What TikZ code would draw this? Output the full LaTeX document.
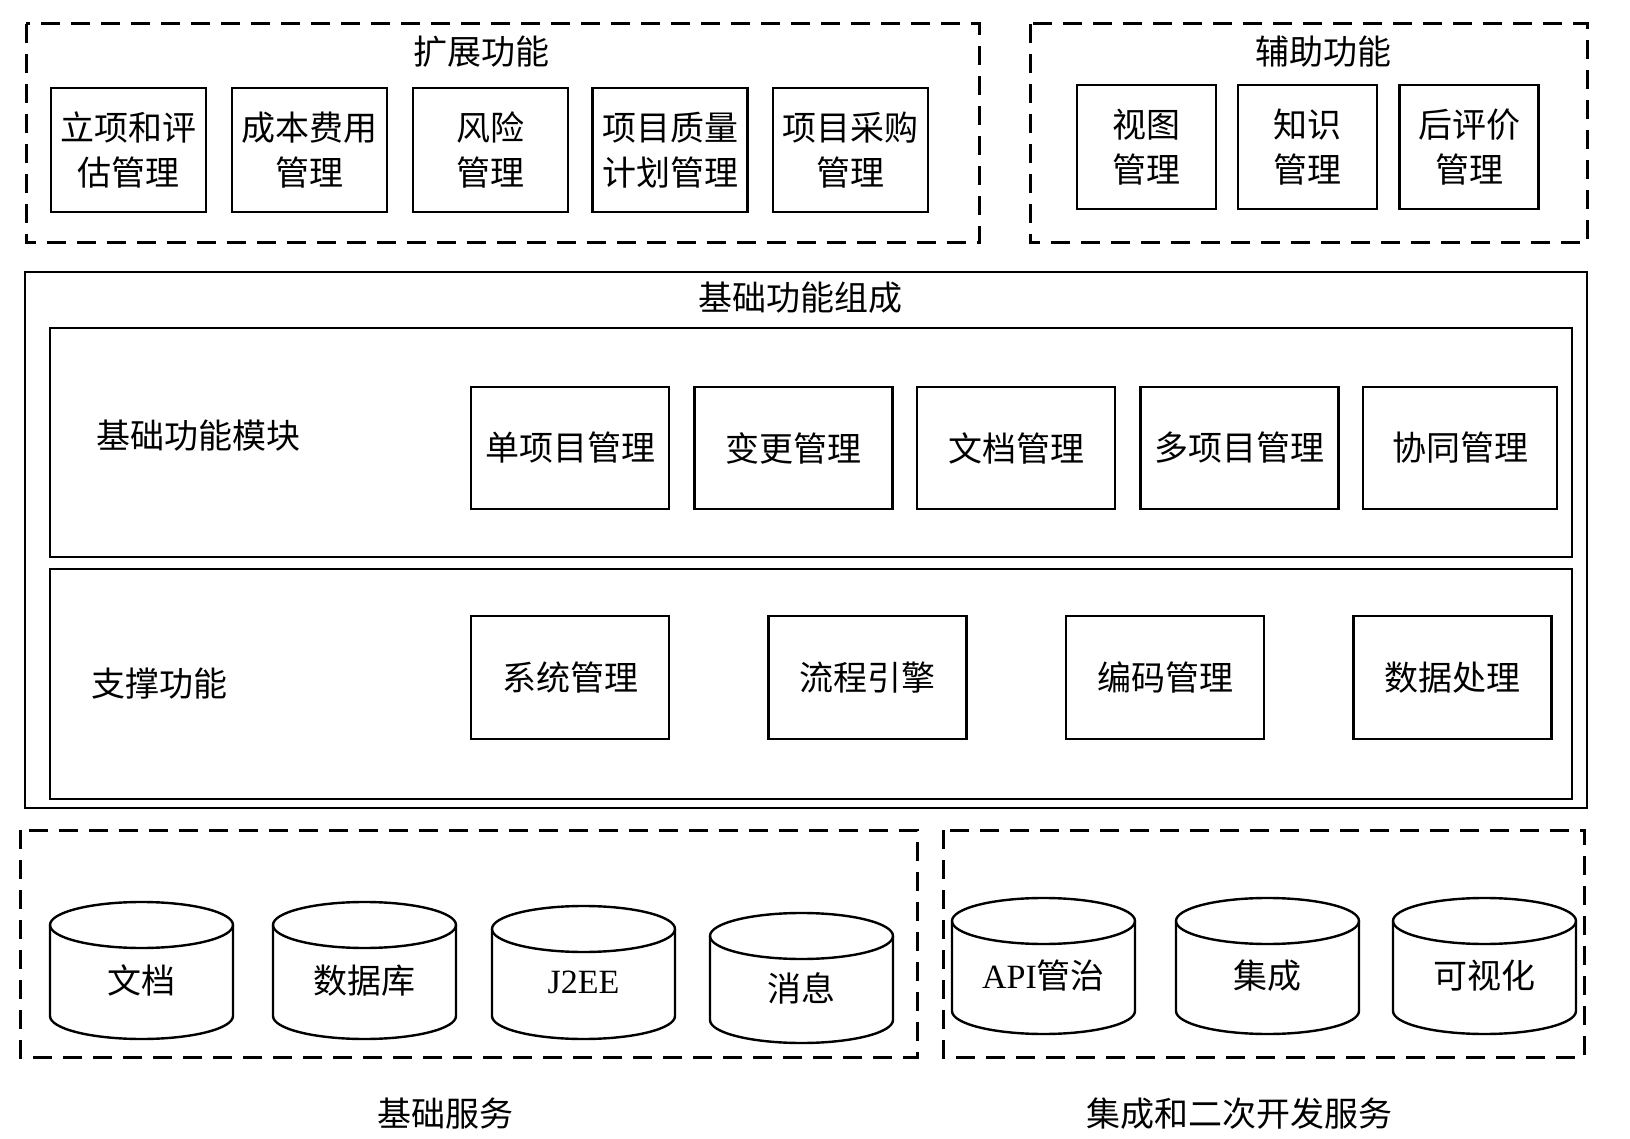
\documentclass[tikz,border=0pt]{standalone}
\usepackage{fontspec}
\setmainfont{Liberation Serif}
\newfontfamily\cjk{Noto Sans CJK SC}
\usepackage{tikz}

\begin{document}
\begin{tikzpicture}[x=0.5pt,y=-0.5pt,
    modbox/.style={draw,line width=1.2pt,align=center,inner sep=0pt,font=\cjk\fontsize{17}{22.5}\selectfont},
    grpbox/.style={draw,line width=1.5pt,dash pattern=on 9.5pt off 5.5pt},
    lbl/.style={font=\cjk\fontsize{17}{20}\selectfont,inner sep=0pt},
    cylline/.style={line width=1.2pt}]
  \useasboundingbox (0,0) rectangle (1630,1139);

  % extension functions
  \draw[grpbox] (26,24) rectangle (979,243);
  \node[lbl] (kzt) at (481,52) {扩展功能};
  \node[modbox,minimum width=77.5pt,minimum height=62pt] (kz1) at (128.5,150) {立项和评\\估管理};
  \node[modbox,minimum width=77.5pt,minimum height=62pt] (kz2) at (309.5,150) {成本费用\\管理};
  \node[modbox,minimum width=77.5pt,minimum height=62pt] (kz3) at (490.5,150) {风险\\管理};
  \node[modbox,minimum width=77.5pt,minimum height=62pt] (kz4) at (670,150) {项目质量\\计划管理};
  \node[modbox,minimum width=77.5pt,minimum height=62pt] (kz5) at (850.5,150) {项目采购\\管理};

  % auxiliary functions
  \draw[grpbox] (1030,24) rectangle (1587,243);
  \node[lbl] (fzt) at (1323,52) {辅助功能};
  \node[modbox,minimum width=69.5pt,minimum height=62pt] (fz1) at (1146.5,147) {视图\\管理};
  \node[modbox,minimum width=69.5pt,minimum height=62pt] (fz2) at (1307.5,147) {知识\\管理};
  \node[modbox,minimum width=69.5pt,minimum height=62pt] (fz3) at (1469,147) {后评价\\管理};

  % basic functions
  \draw[line width=1.2pt] (25,272) rectangle (1587,808);
  \node[lbl] (jct) at (800,298) {基础功能组成};
  \draw[line width=1.2pt] (50,328) rectangle (1572,557);
  \node[lbl,anchor=west] (mkt) at (96,436) {基础功能模块};
  \node[modbox,minimum width=99pt,minimum height=61pt] (mk1) at (570,448) {单项目管理};
  \node[modbox,minimum width=99pt,minimum height=61pt] (mk2) at (793.5,448) {变更管理};
  \node[modbox,minimum width=99pt,minimum height=61pt] (mk3) at (1016,448) {文档管理};
  \node[modbox,minimum width=99pt,minimum height=61pt] (mk4) at (1239.5,448) {多项目管理};
  \node[modbox,minimum width=97pt,minimum height=61pt] (mk5) at (1460,448) {协同管理};
  \draw[line width=1.2pt] (50,569) rectangle (1572,799);
  \node[lbl,anchor=west] (zct) at (91,684) {支撑功能};
  \node[modbox,minimum width=99pt,minimum height=61.5pt] (zc1) at (570,677.5) {系统管理};
  \node[modbox,minimum width=99pt,minimum height=61.5pt] (zc2) at (867.5,677.5) {流程引擎};
  \node[modbox,minimum width=99pt,minimum height=61.5pt] (zc3) at (1165,677.5) {编码管理};
  \node[modbox,minimum width=99pt,minimum height=61.5pt] (zc4) at (1452.5,677.5) {数据处理};

  % services
  \draw[grpbox] (20,830) rectangle (917,1057);
  \draw[grpbox] (943,830) rectangle (1584,1057);
  \foreach \nm/\xl/\yt/\yb/\txt in {c1/50/902/1039/文档, c2/273/902/1039/数据库,
      c3/492/906/1039/{\rmfamily J2EE}, c4/710/913/1043/消息,
      c5/952/898/1034/{{\rmfamily API}管治}, c6/1176/898/1034/集成, c7/1393/898/1034/可视化} {
    \draw[cylline] (\xl+183,\yt+23) -- (\xl+183,\yb-23)
      arc[start angle=0,end angle=180,x radius=91.5,y radius=23] -- (\xl,\yt+23);
    \draw[cylline] (\xl+91.5,\yt+23) ellipse[x radius=91.5,y radius=23];
    \node[lbl] (\nm) at (\xl+91.5,{(\yt+\yb)/2+10}) {\txt};
  }
  \node[lbl] (jcfw) at (445,1114) {基础服务};
  \node[lbl] (jkfw) at (1239,1114) {集成和二次开发服务};
\end{tikzpicture}
\end{document}
